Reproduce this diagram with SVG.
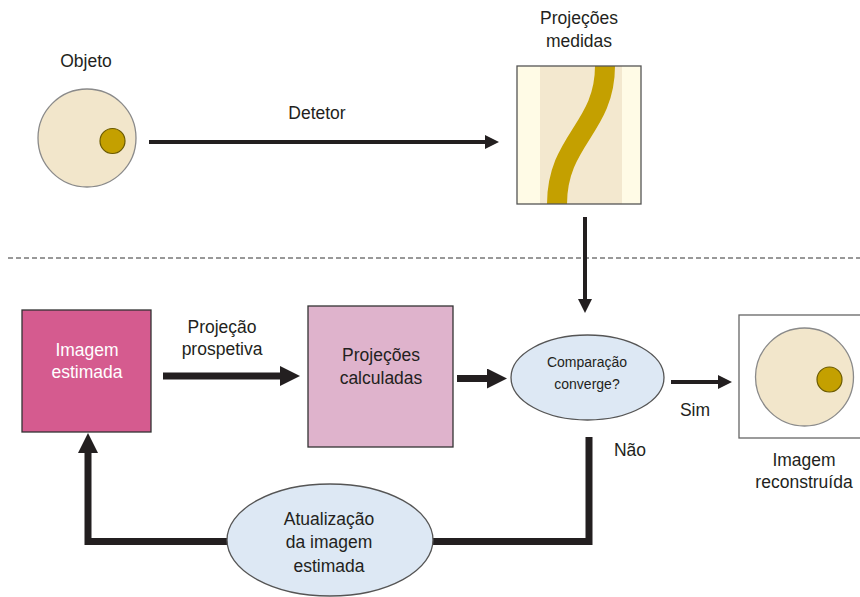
<svg xmlns="http://www.w3.org/2000/svg" width="860" height="597" viewBox="0 0 860 597">
<style>
text{font-family:"Liberation Sans",Arial,sans-serif;fill:#231f20;text-anchor:middle}
.lbl{font-size:17.5px}
.sm{font-size:14px}
.wt{fill:#ffffff}
.obj{fill:#f2e6cb;stroke:#8a8a8a;stroke-width:1.3}
.dot{fill:#c4a000;stroke:#6b5a00;stroke-width:1.2}
.ell{fill:#dde8f4;stroke:#555;stroke-width:1.3}
.ln{fill:none;stroke:#231f20;stroke-linejoin:miter}
.thin{stroke-width:4}
.thick{stroke-width:7}
</style>
<defs>
<marker id="ah" markerUnits="userSpaceOnUse" markerWidth="14" markerHeight="14" refX="0" refY="7" orient="auto"><path d="M0,0 L14,7 L0,14 z" fill="#231f20"/></marker>
<marker id="ahb" markerUnits="userSpaceOnUse" markerWidth="20" markerHeight="20" refX="0" refY="10" orient="auto"><path d="M0,0 L20,10 L0,20 z" fill="#231f20"/></marker>
</defs>
<rect width="860" height="597" fill="#ffffff"/>
<line x1="8" y1="258" x2="860" y2="258" stroke="#333" stroke-width="1" stroke-dasharray="5,3"/>
<g id="connectors">
<line class="ln thin" x1="149" y1="142" x2="485" y2="142" marker-end="url(#ah)"/>
<text class="lbl" x="317" y="119">Detetor</text>
<line class="ln thin" x1="585" y1="217" x2="585" y2="299" marker-end="url(#ah)"/>
<line class="ln thick" x1="163" y1="376" x2="280" y2="376" marker-end="url(#ahb)"/>
<text class="lbl" x="222" y="333">Projeção</text>
<text class="lbl" x="222" y="355">prospetiva</text>
<line class="ln thick" x1="457" y1="378.5" x2="487" y2="378.5" marker-end="url(#ahb)"/>
<line class="ln thin" x1="671" y1="382" x2="718" y2="382" marker-end="url(#ah)"/>
<text class="lbl" x="695" y="416">Sim</text>
<path class="ln thick" d="M589,437 V541.5 H88 V453" marker-end="url(#ahb)"/>
<text class="lbl" x="630" y="456">Não</text>
</g>
<g id="objeto">
<text class="lbl" x="86" y="67">Objeto</text>
<circle class="obj" cx="87" cy="138" r="49"/>
<circle class="dot" cx="112.5" cy="141" r="12.5"/>
</g>
<g id="projecoes-medidas">
<text class="lbl" x="579" y="24">Projeções</text>
<text class="lbl" x="579" y="47">medidas</text>
<rect x="517" y="66" width="124" height="138" fill="#fffbe6"/>
<rect x="540" y="66" width="82" height="138" fill="#f3e8cf"/>
<path d="M605,66 C605,128 557,140 557,204" fill="none" stroke="#c4a000" stroke-width="20"/>
<rect x="517" y="66" width="124" height="138" fill="none" stroke="#555" stroke-width="1.3"/>
</g>
<g id="imagem-estimada">
<rect x="22" y="310" width="129" height="122" fill="#d55b8f" stroke="#333" stroke-width="1.3"/>
<text class="lbl wt" x="87" y="356">Imagem</text>
<text class="lbl wt" x="87" y="378">estimada</text>
</g>
<g id="projecoes-calculadas">
<rect x="308" y="306" width="145" height="141" fill="#dfb3cc" stroke="#333" stroke-width="1.3"/>
<text class="lbl" x="381" y="361">Projeções</text>
<text class="lbl" x="381" y="384">calculadas</text>
</g>
<g id="comparacao">
<ellipse class="ell" cx="587.5" cy="377.5" rx="76.5" ry="42.5"/>
<text class="sm" x="587" y="367">Comparação</text>
<text class="sm" x="587" y="389">converge?</text>
</g>
<g id="imagem-reconstruida">
<rect x="739" y="315" width="124" height="123" fill="#ffffff" stroke="#666" stroke-width="1.3"/>
<circle class="obj" cx="804.5" cy="377" r="49"/>
<circle class="dot" cx="829.5" cy="379.5" r="12.5"/>
<text class="lbl" x="804" y="466">Imagem</text>
<text class="lbl" x="804" y="488">reconstruída</text>
</g>
<g id="atualizacao">
<ellipse class="ell" cx="330" cy="540" rx="103" ry="56"/>
<text class="lbl" x="329" y="525">Atualização</text>
<text class="lbl" x="329" y="548">da imagem</text>
<text class="lbl" x="329" y="572">estimada</text>
</g>
</svg>
